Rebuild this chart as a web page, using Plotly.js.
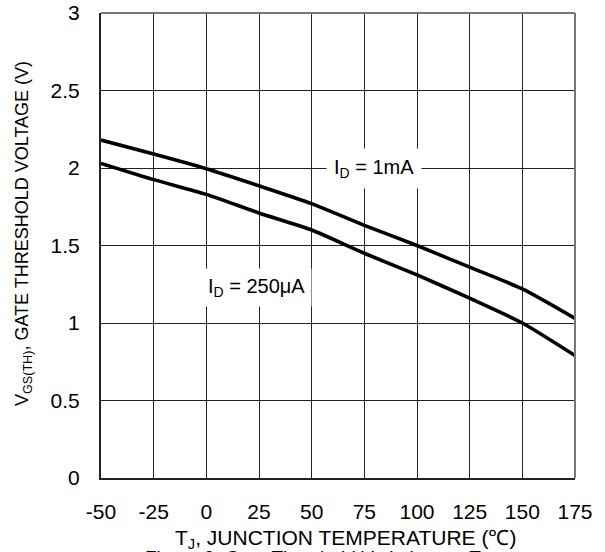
<!DOCTYPE html>
<html>
<head>
<meta charset="utf-8">
<script src="https://cdn.plot.ly/plotly-3.0.1.min.js"></script>
<style>html,body{margin:0;padding:0;background:#fff;}#chart{width:605px;height:552px;}</style>
</head>
<body>
<div id="chart"></div>
<script>
const temperature = [-50, -25, 0, 25, 50, 75, 100, 125, 150, 175];
const vth1mA = [2.18, 2.09, 1.995, 1.885, 1.77, 1.63, 1.50, 1.36, 1.22, 1.03];
const vth250uA = [2.03, 1.925, 1.83, 1.71, 1.60, 1.45, 1.31, 1.16, 1.00, 0.79];
const xTicks = [-50, -25, 0, 25, 50, 75, 100, 125, 150, 175];
const yTicks = [0, 0.5, 1, 1.5, 2, 2.5, 3];
const yTickLabels = ['0', '0.5', '1', '1.5', '2', '2.5', '3'];

const fam = 'Liberation Sans, Arial, sans-serif';
const tickFont = {family: fam, size: 21, color: '#000'};
const xTitleFont = {family: fam, size: 21, color: '#000'};
const yTitleFont = {family: fam, size: 18, color: '#000'};
const labelFont = {family: fam, size: 20, color: '#000'};
const captionFont = {family: fam, size: 19, color: '#000'};
const line = {color: '#000', width: 3.6, shape: 'spline', smoothing: 0.6};

const traces = [
  {x: temperature, y: vth1mA, mode: 'lines', line: line, hoverinfo: 'skip'},
  {x: temperature, y: vth250uA, mode: 'lines', line: line, hoverinfo: 'skip'}
];

const layout = {
  width: 605, height: 552,
  margin: {l: 101, r: 30, t: 13, b: 74},
  paper_bgcolor: '#fff', plot_bgcolor: '#fff',
  showlegend: false,
  font: tickFont,
  xaxis: {
    range: [-50, 175], tickvals: xTicks, ticktext: xTicks.map(String),
    showgrid: true, gridcolor: '#222', gridwidth: 1,
    zeroline: false, showline: true, linecolor: '#222', linewidth: 2,
    ticks: 'outside', ticklen: 14, tickcolor: 'rgba(0,0,0,0)', tickfont: tickFont
  },
  yaxis: {
    range: [0, 3], tickvals: yTicks, ticktext: yTickLabels,
    showgrid: true, gridcolor: '#222', gridwidth: 1,
    zeroline: false, showline: true, linecolor: '#222', linewidth: 2,
    ticks: 'outside', ticklen: 15, tickcolor: 'rgba(0,0,0,0)', tickfont: tickFont
  },
  shapes: [
    {type: 'line', xref: 'paper', yref: 'paper', x0: 0, x1: 1, y0: 1, y1: 1, line: {color: '#777', width: 2}},
    {type: 'line', xref: 'paper', yref: 'paper', x0: 1, x1: 1, y0: 0, y1: 1, line: {color: '#777', width: 2}}
  ],
  annotations: [
    {x: 79.4, y: 2.0, xref: 'x', yref: 'y', text: 'I<sub>D</sub> = 1mA', showarrow: false,
     bgcolor: '#fff', font: labelFont, borderpad: 7},
    {x: 24, y: 1.228, xref: 'x', yref: 'y', text: 'I<sub>D</sub> = 250μA', showarrow: false,
     bgcolor: '#fff', font: labelFont, borderpad: 6},
    {xref: 'paper', yref: 'paper', x: (345 - 101) / 474, y: -(524 - 478) / 465, yanchor: 'top', xanchor: 'center',
     text: 'T<sub>J</sub>, JUNCTION TEMPERATURE (℃)', showarrow: false, font: xTitleFont},
    {xref: 'paper', yref: 'paper', x: (24 - 101) / 474, y: (478 - 234) / 465, xanchor: 'center', yanchor: 'middle',
     textangle: -90, text: 'V<sub>GS(TH)</sub>, GATE THRESHOLD VOLTAGE (V)', showarrow: false, font: yTitleFont},
    {xref: 'paper', yref: 'paper', x: (360 - 101) / 474, y: -(545 - 478) / 465, yanchor: 'top', xanchor: 'center',
     text: 'Figure 9. Gate Threshold Variation vs. Temperature', showarrow: false, font: captionFont}
  ]
};

Plotly.newPlot('chart', traces, layout, {displayModeBar: false, staticPlot: true});
</script>
</body>
</html>
